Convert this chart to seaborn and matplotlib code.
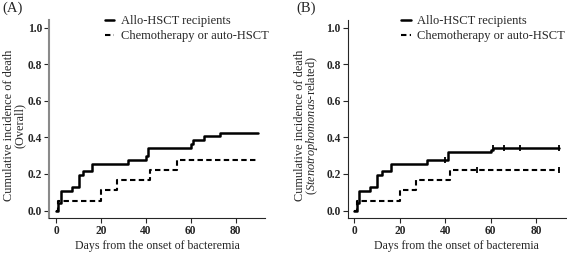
import matplotlib
matplotlib.use("Agg")
import matplotlib.pyplot as plt
import seaborn as sns
import pandas as pd

sns.set_style("ticks")
plt.rcParams['font.family'] = ['Liberation Serif', 'DejaVu Serif']
plt.rcParams['mathtext.fontset'] = 'custom'
plt.rcParams['mathtext.rm'] = 'Liberation Serif'
plt.rcParams['mathtext.it'] = 'Liberation Serif:italic'

# Panel A: overall mortality (step points)
allo_a_days = [0, 1, 2, 7, 10, 12, 16, 32, 40, 41, 60, 61, 66, 73, 90]
allo_a_inc = [0, 0.04, 0.105, 0.128, 0.193, 0.215, 0.256, 0.277, 0.30, 0.342, 0.362, 0.385, 0.405, 0.425, 0.425]
chemo_a_days = [0, 1, 20, 27, 42, 54, 90]
chemo_a_inc = [0, 0.054, 0.11, 0.165, 0.22, 0.276, 0.276]

# Panel B: Stenotrophomonas-related mortality
allo_b_days = [0, 1, 2, 7, 10, 12, 16, 32, 41, 60, 61, 90]
allo_b_inc = [0, 0.04, 0.105, 0.128, 0.193, 0.215, 0.256, 0.277, 0.321, 0.332, 0.342, 0.342]
allo_b_cens_days = [40, 61, 66, 73, 90]
allo_b_cens_inc = [0.277, 0.342, 0.342, 0.342, 0.342]
chemo_b_days = [0, 1, 20, 27, 42, 90]
chemo_b_inc = [0, 0.054, 0.11, 0.165, 0.22, 0.22]
chemo_b_cens_days = [54, 90]
chemo_b_cens_inc = [0.22, 0.22]

labels = ["Allo-HSCT recipients", "Chemotherapy or auto-HSCT"]
yticks = [0.0, 0.2, 0.4, 0.6, 0.8, 1.0]
xticks = [0, 20, 40, 60, 80]


def draw_panel(ax, allo_x, allo_y, chemo_x, chemo_y, ylabel, leg_x, ylab_x,
               cens_x=None, cens_y=None):
    df_allo = pd.DataFrame({"day": allo_x, "inc": allo_y})
    df_chemo = pd.DataFrame({"day": chemo_x, "inc": chemo_y})
    sns.lineplot(x="day", y="inc", data=df_allo, ax=ax, color="black", lw=1.8,
                 drawstyle="steps-post", estimator=None, label=labels[0])
    sns.lineplot(x="day", y="inc", data=df_chemo, ax=ax, color="black", lw=1.5,
                 drawstyle="steps-post", estimator=None, label=labels[1],
                 linestyle=(0, (2.6, 1.6)))
    if cens_x is not None:
        sns.scatterplot(x=cens_x, y=cens_y, ax=ax, marker="|", color="black", s=25,
                        linewidth=1.3, legend=False)
    ax.set_xlim(-3, 93)
    ax.set_ylim(-0.043, 1.04)
    ax.set_xticks(xticks)
    ax.set_yticks(yticks)
    ax.set_yticklabels([f"{t:.1f}" for t in yticks])
    ax.tick_params(labelsize=8.3, length=3.5, width=0.8, pad=1.5)
    for lab in ax.get_xticklabels() + ax.get_yticklabels():
        lab.set_fontweight("bold")
    for sp in ["left", "bottom"]:
        ax.spines[sp].set_linewidth(0.8)
    sns.despine(ax=ax)
    ax.set_xlabel("Days from the onset of bacteremia", fontsize=8.6, labelpad=2)
    ax.set_ylabel(ylabel, fontsize=8.8, linespacing=0.85)
    ax.yaxis.set_label_coords(ylab_x, 0.47)
    ax.legend(loc="upper left", bbox_to_anchor=(leg_x, 1.025), frameon=False,
              fontsize=9.0, handlelength=0.75, handletextpad=0.5,
              labelspacing=0.25, borderaxespad=0, borderpad=0)


fig = plt.figure(figsize=(5.67, 2.54), dpi=100)
ax1 = fig.add_axes([0.087, 0.14, 0.38, 0.78])
ax2 = fig.add_axes([0.613, 0.14, 0.385, 0.78])

draw_panel(ax1, allo_a_days, allo_a_inc, chemo_a_days, chemo_a_inc,
           "Cumulative incidence of death\n(Overall)", 0.258, -0.11)
draw_panel(ax2, allo_b_days, allo_b_inc, chemo_b_days, chemo_b_inc,
           "Cumulative incidence of death\n($\\mathit{Stenotrophomonas}$-related)", 0.247, -0.125,
           cens_x=allo_b_cens_days + chemo_b_cens_days,
           cens_y=allo_b_cens_inc + chemo_b_cens_inc)
ax1.spines["left"].set_color("#8a8a8a")
ax1.spines["left"].set_linewidth(1.5)

fig.text(0.004, 0.995, "(A)", fontsize=10.5, va="top", ha="left")
fig.text(0.522, 0.995, "(B)", fontsize=10.5, va="top", ha="left")

fig.savefig("out.png", dpi=100)
